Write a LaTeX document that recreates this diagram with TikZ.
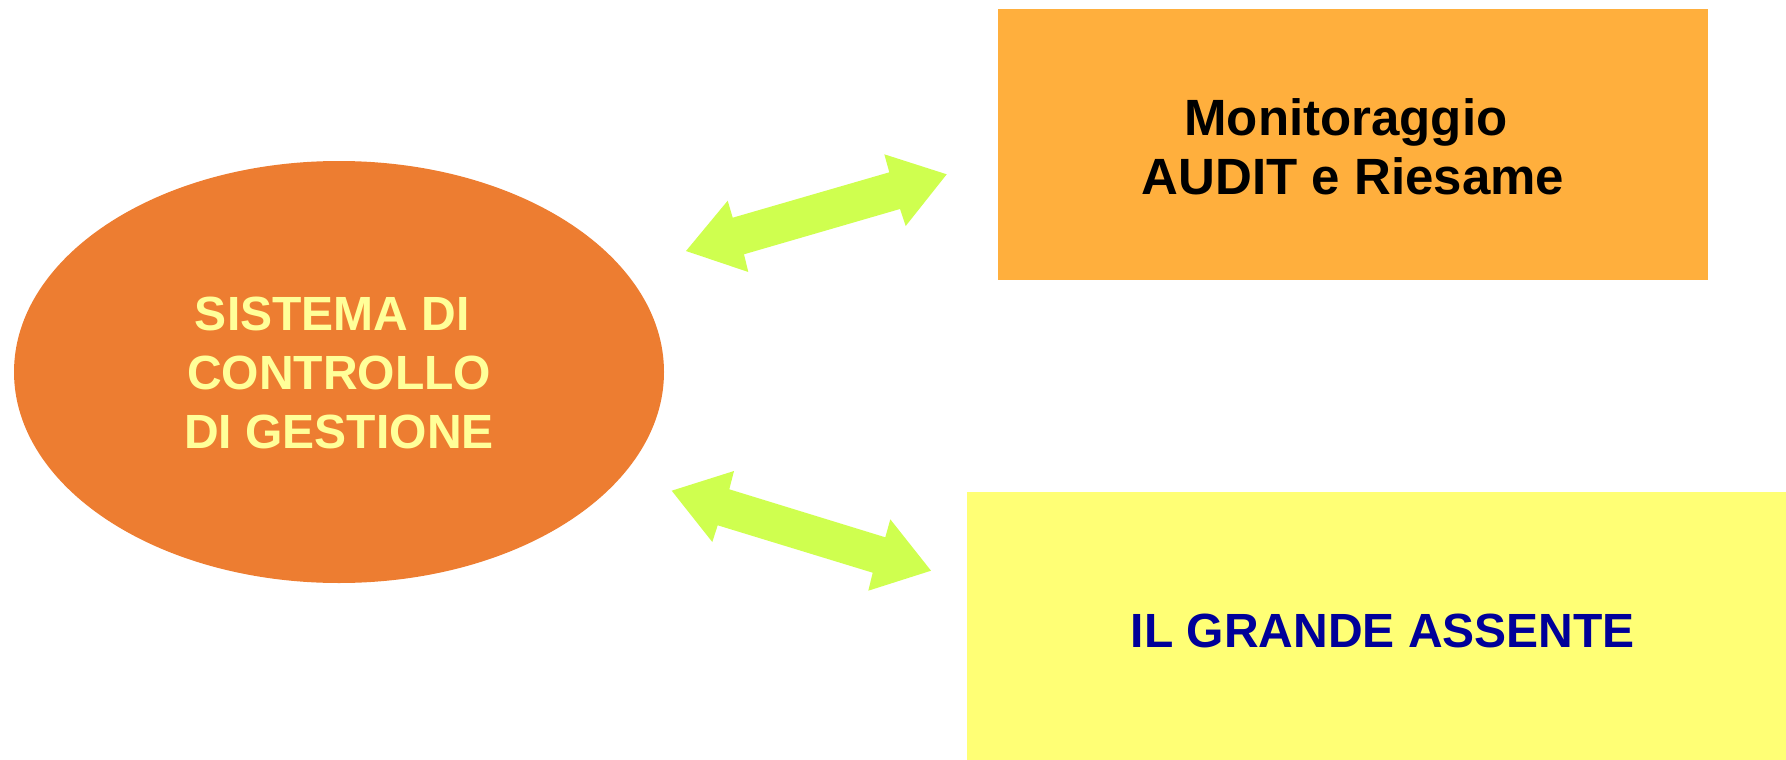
\documentclass[tikz,border=0pt]{standalone}
\usepackage{fontspec}
\setmainfont{Liberation Sans}
\definecolor{ellfill}{HTML}{ED7D31}
\definecolor{elltext}{HTML}{FFFF99}
\definecolor{topfill}{HTML}{FFAF3D}
\definecolor{botfill}{HTML}{FFFF75}
\definecolor{arrfill}{HTML}{CFFF4F}
\definecolor{bluetext}{HTML}{000099}
\newcommand{\tsp}{\hspace*{0.278em}}
\tikzset{
  lbl/.style={font=\fontsize{48}{59}\selectfont\bfseries, align=center},
  lblbig/.style={font=\fontsize{51}{59}\selectfont\bfseries, align=center},
  arrshape/.style={fill=arrfill, draw=none}
}
\begin{document}
\begin{tikzpicture}[x=1pt,y=-1pt]
\useasboundingbox (0,0) rectangle (1786,760);
% ellipse
\fill[ellfill] (339,372) ellipse [x radius=325, y radius=211];
\node[lbl, text=elltext] (sys) at (339,373) {SISTEMA DI\tsp\\CONTROLLO\tsp\\\tsp DI GESTIONE\tsp};
% top box
\fill[topfill] (998,9) rectangle (1708,280);
\node[lblbig, text=black] (mon) at (1353,147) {Monitoraggio\tsp\\AUDIT e Riesame};
% bottom box
\fill[botfill] (967,492) rectangle (1786,760);
\node[lbl, text=bluetext] (ass) at (1383,631) {IL GRANDE ASSENTE};
% top double arrow
\fill[arrshape] (686,251) -- (727.7,200.7) -- (732.7,217.7) -- (889.3,172.3) -- (884.3,154.3)
  -- (946.7,174.3) -- (905.7,226) -- (900,209) -- (744,254.3) -- (748.3,272) -- cycle;
% bottom double arrow
\fill[arrshape] (671.7,490.7) -- (734,471) -- (729.3,489.3) -- (885.3,537.3) -- (890.3,519.3)
  -- (931,570.7) -- (868.3,590.7) -- (872.7,572.7) -- (717.7,525.3) -- (712.3,542) -- cycle;
\end{tikzpicture}
\end{document}
